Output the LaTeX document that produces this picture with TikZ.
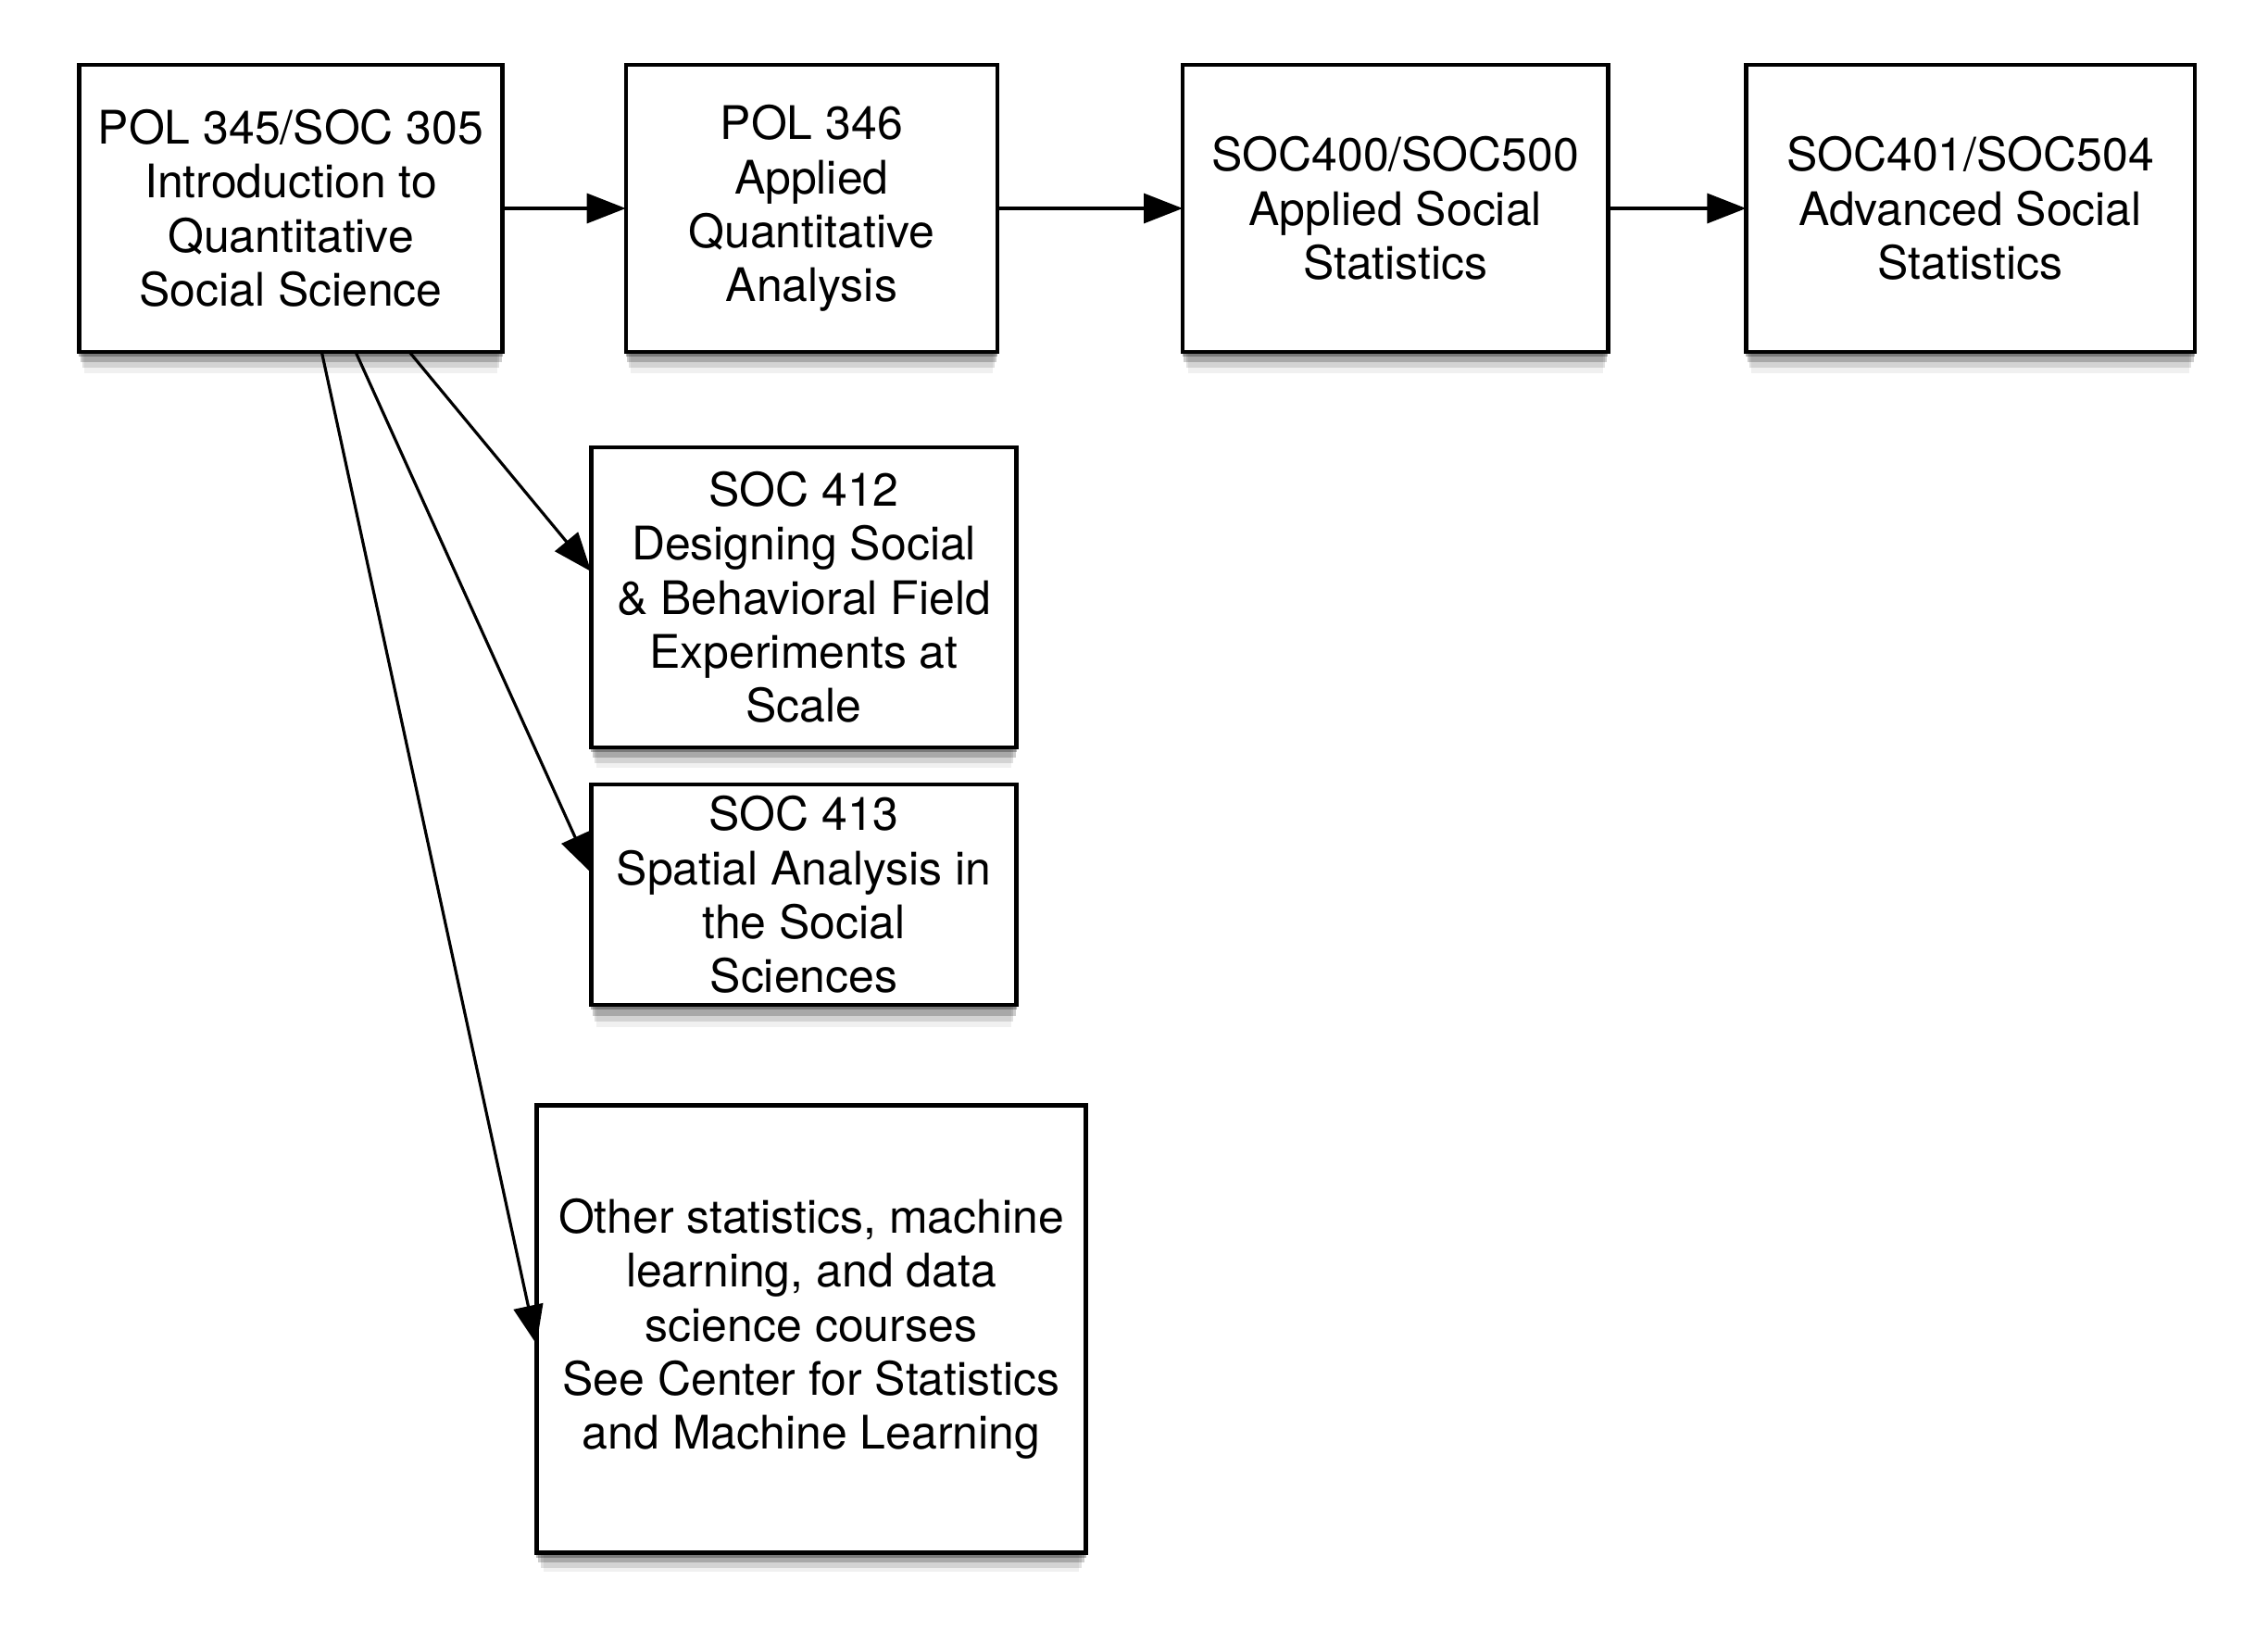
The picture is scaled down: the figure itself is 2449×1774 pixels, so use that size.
\documentclass[tikz,border=0pt]{standalone}
\usepackage{fontspec}
\setmainfont{TeX Gyre Heros}
\usepackage{tikz}
\usetikzlibrary{calc,positioning,shadows,arrows.meta}

\begin{document}
\begin{tikzpicture}[x=0.01cm,y=-0.01cm,
  course/.style={draw, fill=white, line width=1.25pt, align=center, inner sep=0pt, outer sep=0pt,
    font=\fontsize{14.2}{16.6}\selectfont,
    general shadow={shadow yshift=-0.05cm, fill=black, opacity=0.28},
    general shadow={shadow yshift=-0.12cm, shadow scale=0.995, fill=black, opacity=0.20},
    general shadow={shadow yshift=-0.20cm, shadow scale=0.985, fill=black, opacity=0.12},
    general shadow={shadow yshift=-0.27cm, shadow scale=0.975, fill=black, opacity=0.06}},
  link/.style={line width=0.9pt, -{Triangle[length=0.42cm, width=0.32cm]}}
  ]
\useasboundingbox (0,0) rectangle (2449,1774);

% top row
\node[course, minimum width=4.57cm, minimum height=3.10cm] (intro) at (314,225)
  {POL 345/SOC 305\\Introduction to\\Quantitative\\Social Science};
\node[course, minimum width=4.01cm, minimum height=3.10cm, right=1.33cm of intro] (applied)
  {POL 346\\Applied\\Quantitative\\Analysis};
\node[course, minimum width=4.59cm, minimum height=3.10cm, right=2.00cm of applied] (socstats)
  {SOC400/SOC500\\Applied Social\\Statistics};
\node[course, minimum width=4.84cm, minimum height=3.10cm, right=1.49cm of socstats] (advstats)
  {SOC401/SOC504\\Advanced Social\\Statistics};

% branches
\node[course, minimum width=4.59cm, minimum height=3.24cm] (fieldexp) at (868,645)
  {SOC 412\\Designing Social\\\& Behavioral Field\\Experiments at\\Scale};
\node[course, minimum width=4.59cm, minimum height=2.38cm, below=0.40cm of fieldexp] (spatial)
  {SOC 413\\Spatial Analysis in\\the Social\\Sciences};
\node[course, minimum width=5.93cm, minimum height=4.83cm] (other) at (876,1435)
  {Other statistics, machine\\learning, and data\\science courses\\See Center for Statistics\\and Machine Learning};

\draw[link] (intro) -- (applied);
\draw[link] (applied) -- (socstats);
\draw[link] (socstats) -- (advstats);

\draw[link] (intro) -- ($(fieldexp.north west)!0.414!(fieldexp.south west)$);
\draw[link] (intro) -- ($(spatial.north west)!0.40!(spatial.south west)$);
\draw[link] (intro) -- ($(other.north west)!0.534!(other.south west)$);
\end{tikzpicture}
\end{document}
